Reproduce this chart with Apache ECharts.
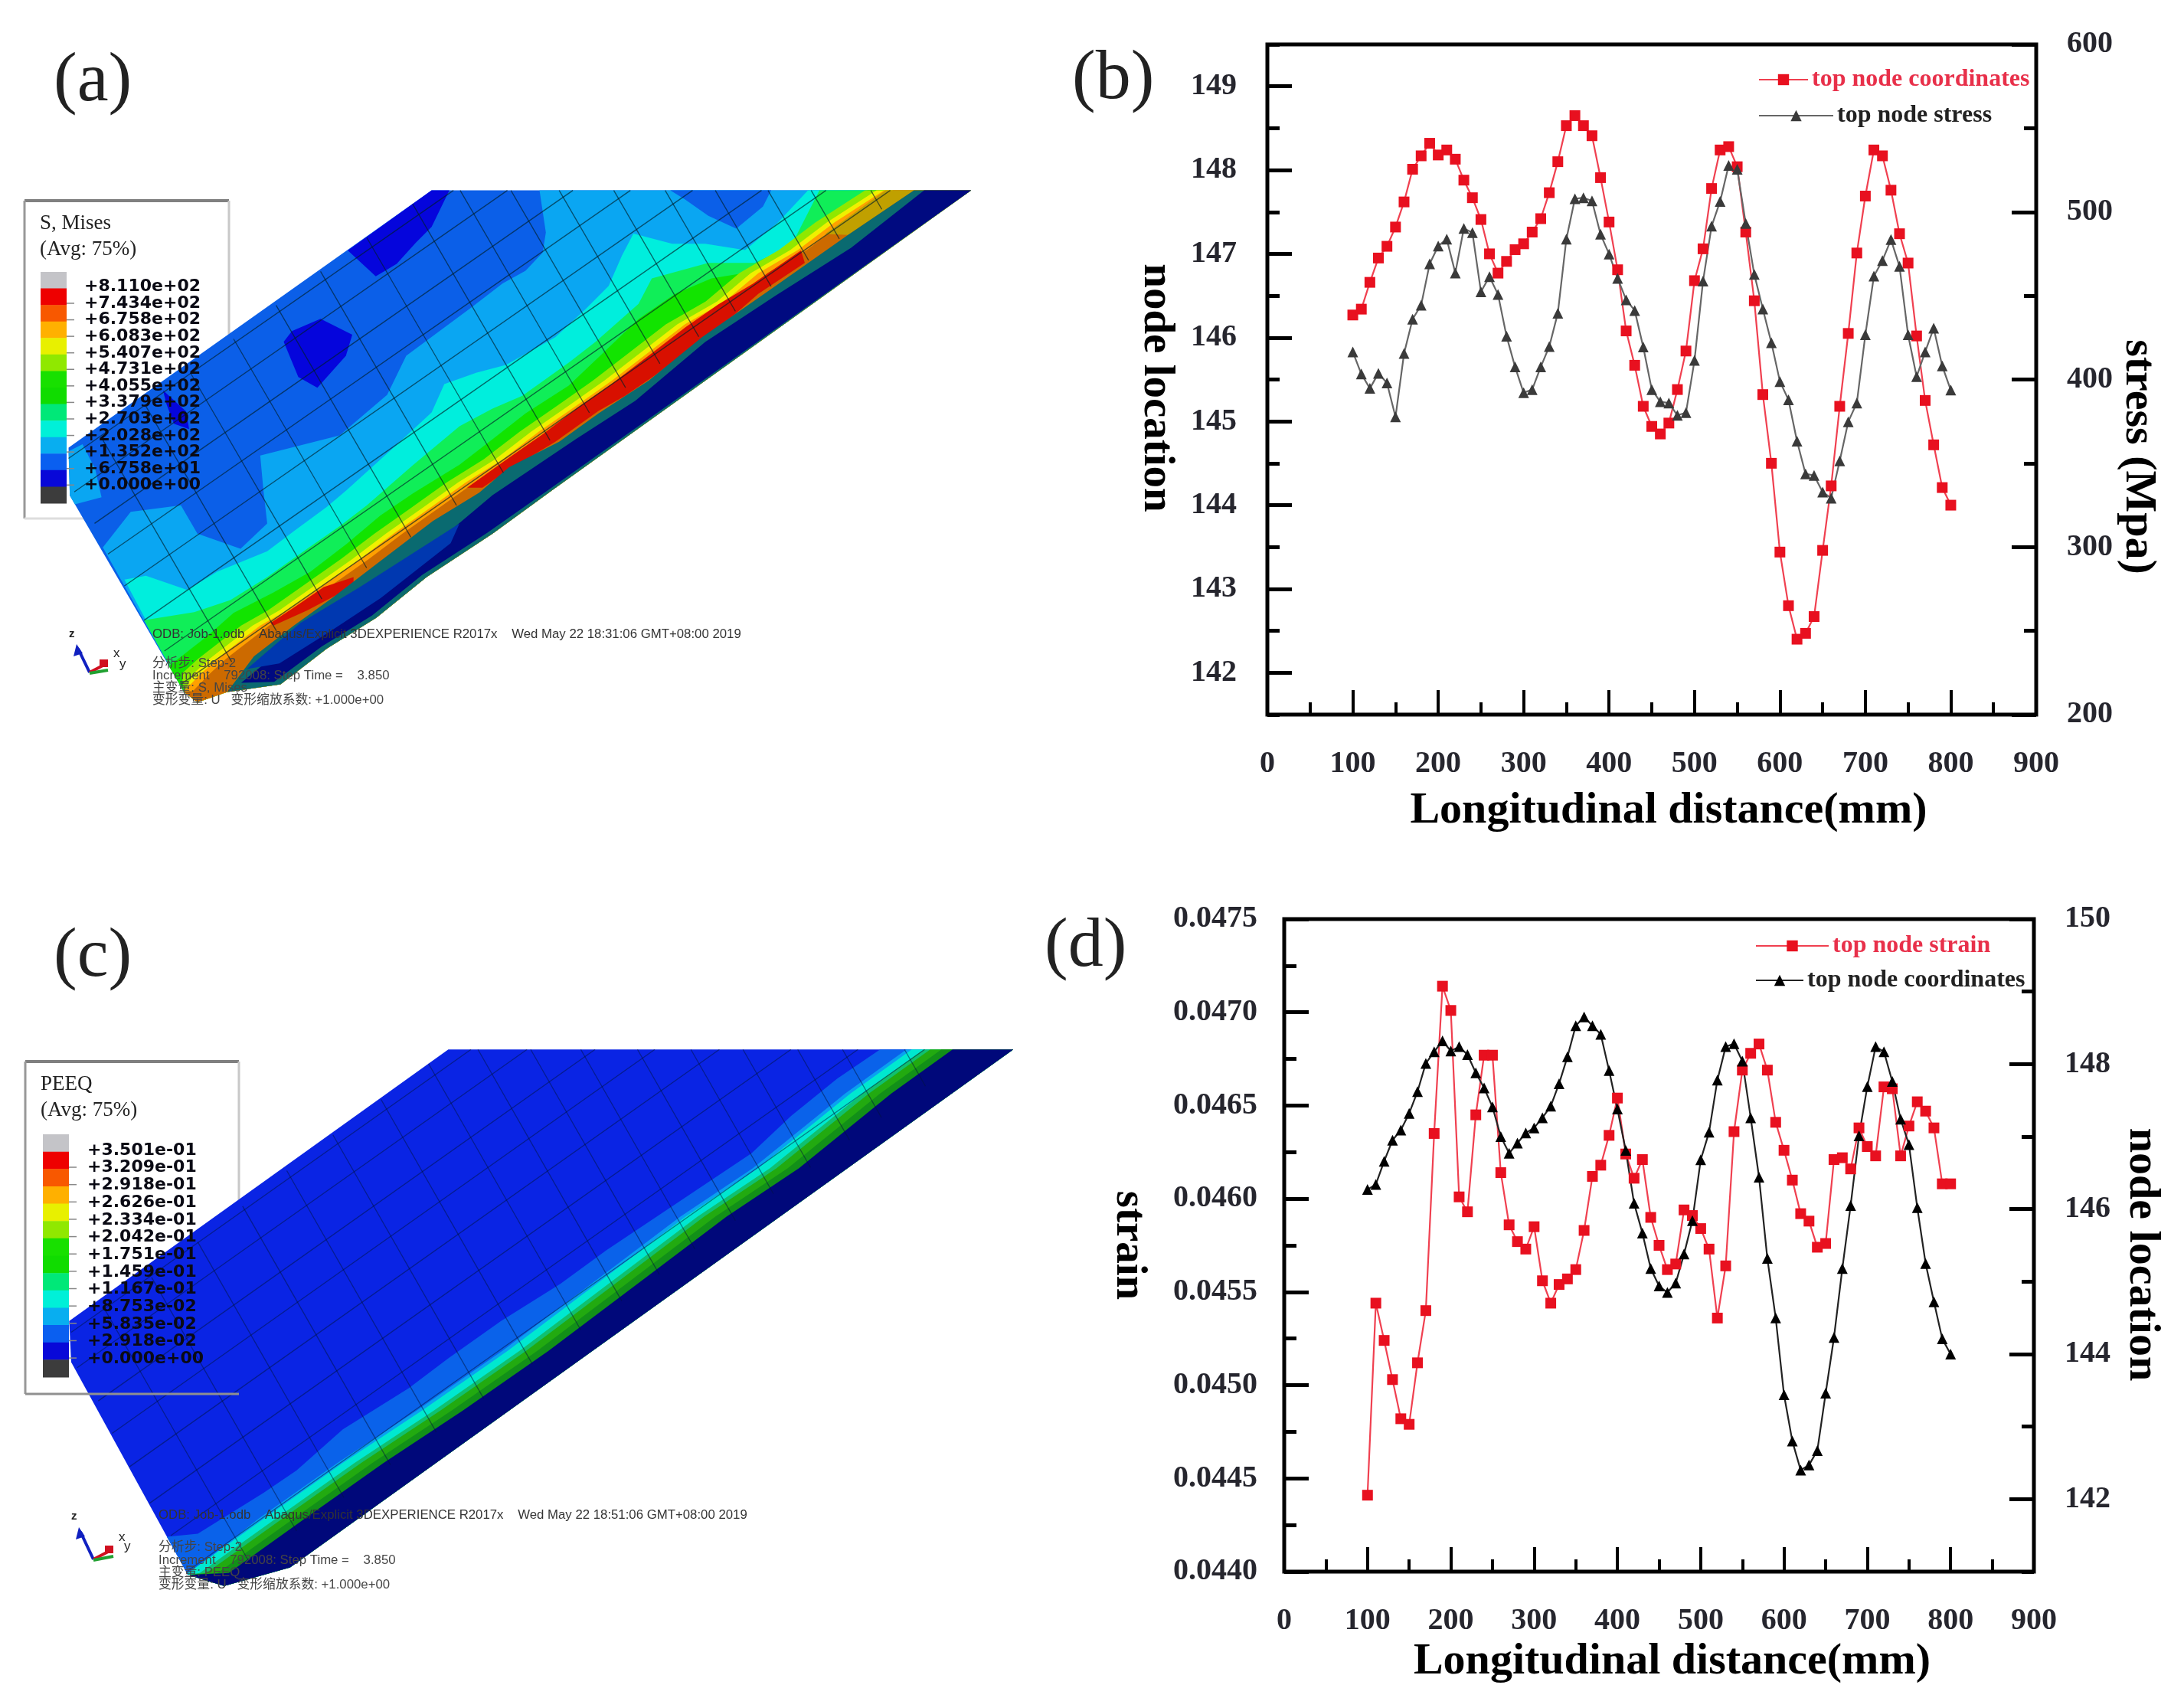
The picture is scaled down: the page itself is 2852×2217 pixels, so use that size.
<!DOCTYPE html>
<html>
<head>
<meta charset="utf-8">
<style>
  html, body { margin: 0; padding: 0; background: #fff; }
  #main { width: 2852px; height: 2217px; }
</style>
<script src="https://cdn.jsdelivr.net/npm/echarts@6/dist/echarts.min.js"></script>
</head>
<body>
<div id="main"></div>
<script>
// ---DATA: line charts
const nodeDistance = [100,110,120,130,140,150,160,170,180,190,200,210,220,230,240,250,260,270,280,290,300,310,320,330,340,350,360,370,380,390,400,410,420,430,440,450,460,470,480,490,500,510,520,530,540,550,560,570,580,590,600,610,620,630,640,650,660,670,680,690,700,710,720,730,740,750,760,770,780,790,800];
const topNodeCoordinates = [146.27,146.34,146.66,146.95,147.09,147.32,147.62,148.01,148.17,148.32,148.18,148.24,148.13,147.88,147.67,147.41,147.00,146.77,146.91,147.05,147.12,147.26,147.42,147.73,148.10,148.53,148.65,148.53,148.41,147.91,147.38,146.81,146.08,145.67,145.18,144.94,144.85,144.98,145.38,145.84,146.68,147.06,147.78,148.24,148.28,148.04,147.26,146.44,145.32,144.50,143.44,142.80,142.40,142.47,142.67,143.46,144.23,145.18,146.05,147.01,147.69,148.24,148.17,147.76,147.24,146.89,146.02,145.25,144.72,144.21,144.00];
const topNodeStress = [416.5,403.3,394.7,403.7,397.9,377.7,415.5,436,444.4,469,479.7,483.8,463.6,490.2,487.7,452.4,461.4,450.8,425.8,407.5,392.1,394,407.5,419.7,439.6,483.8,507.9,508.5,506.6,486.7,474.9,460.4,447.6,441.2,419.4,394,386.7,386,378.6,380.2,411.4,458.8,491.5,506.3,527.8,525.5,493.1,462.7,442.1,421.9,398.8,387.9,363.2,343.7,342.7,332.8,329.2,351.4,374.8,386,426.7,461.7,471,483.5,467.5,426.7,401.7,416.5,430.6,408.1,393.7];
const topNodeStrain = [0.04441,0.04544,0.04524,0.04503,0.04482,0.04479,0.04512,0.04540,0.04635,0.04714,0.04701,0.04601,0.04593,0.04645,0.04677,0.04677,0.04614,0.04586,0.04577,0.04573,0.04585,0.04556,0.04544,0.04554,0.04557,0.04562,0.04583,0.04612,0.04618,0.04634,0.04654,0.04624,0.04611,0.04621,0.04590,0.04575,0.04562,0.04565,0.04594,0.04591,0.04584,0.04573,0.04536,0.04564,0.04636,0.04669,0.04678,0.04683,0.04669,0.04641,0.04626,0.04610,0.04592,0.04588,0.04574,0.04576,0.04621,0.04622,0.04616,0.04638,0.04628,0.04623,0.04660,0.04659,0.04623,0.04639,0.04652,0.04647,0.04638,0.04608,0.04608];

// ---DATA: contour legends
const misesLabels = ['+8.110e+02','+7.434e+02','+6.758e+02','+6.083e+02','+5.407e+02','+4.731e+02','+4.055e+02','+3.379e+02','+2.703e+02','+2.028e+02','+1.352e+02','+6.758e+01','+0.000e+00'];
const peeqLabels = ['+3.501e-01','+3.209e-01','+2.918e-01','+2.626e-01','+2.334e-01','+2.042e-01','+1.751e-01','+1.459e-01','+1.167e-01','+8.753e-02','+5.835e-02','+2.918e-02','+0.000e+00'];
const barColors = ['#c4c4c8','#ee0000','#f85800','#ffb000','#e8f000','#90e800','#18e000','#10dc00','#00e878','#00f0d8','#08aef0','#0a5ff0','#0808d8','#3c3c3c'];

// ---DATA: panel (a) contours, in the hidden 0-1560 view axes
const plateA = [[680,62],[1530,62],[870,910],[776,1033],[672,1156],[593,1271],[515,1358],[442,1459],[358,1481],[311,1510],[290,1481],[110,925],[108,790]];
const tailA = [[290,1481],[311,1510],[358,1481],[442,1459],[515,1358],[593,1271],[672,1156],[776,1033],[870,910],[1530,62]];
const lightPatchA = [[108,800],[130,780],[150,850],[160,930],[118,950],[110,925]];
const deepPatchA1 = [[680,62],[708,62],[680,165],[655,210],[625,270],[592,305],[548,232]];
const deepPatchA2 = [[505,425],[555,470],[545,530],[500,620],[470,590],[447,490],[460,460]];
const deepPatchA3 = [[257,628],[293,687],[298,737],[274,722],[262,665]];
const notchA = [[1056,62],[1215,62],[1202,108],[1160,170],[1116,134],[1079,87]];
const contourBlue = [[850,62],[860,181],[855,238],[828,289],[792,325],[745,390],[640,530],[610,640],[535,755],[410,812],[415,910],[421,1004],[379,1076],[311,1033],[285,953],[206,971],[162,1072]];
const contourCyan = [[1273,62],[1226,152],[1174,231],[1111,213],[1059,213],[998,184],[980,246],[959,332],[923,397],[875,477],[797,556],[750,578],[700,610],[680,690],[620,790],[546,910],[515,957],[463,1026],[421,1083],[342,1141],[295,1192],[230,1152],[196,1163]];
const contourSpring = [[1291,62],[1247,217],[1189,267],[1116,267],[1027,311],[1006,383],[938,491],[896,549],[823,643],[776,679],[724,729],[650,840],[578,953],[536,1011],[484,1076],[421,1156],[363,1221],[306,1255],[227,1278]];
const contourGreen = [[1367,62],[1299,144],[1247,231],[1195,289],[1121,311],[1064,354],[1006,426],[943,534],[896,614],[828,693],[776,766],[724,838],[650,920],[599,982],[546,1062],[489,1141],[431,1199],[368,1257],[327,1322],[266,1408]];
const yellowEdge = [[1393,62],[1315,152],[1257,231],[1195,296],[1142,376],[1079,441],[1022,520],[964,600],[907,672],[849,744],[792,823],[734,888],[677,961],[620,1033],[567,1105],[510,1177],[452,1250],[410,1293],[379,1336],[342,1387],[316,1430],[290,1478]];
const goldTopA = [[1395,62],[1440,62],[1336,188],[1300,185]];
const redSpindle1 = [[1262,232],[1186,326],[1132,384],[1080,449],[1028,521],[965,608],[913,673],[855,752],[803,817],[736,903],[760,903],[802,852],[875,773],[943,686],[985,643],[1032,585],[1100,491],[1158,412],[1195,354],[1268,267]];
const redSpindle2 = [[557,1156],[510,1184],[463,1242],[426,1286],[431,1293],[484,1250],[531,1206],[557,1170]];
const tealEdgeA = [[1440,62],[1336,188],[1210,347],[1106,477],[1022,600],[943,693],[881,773],[802,845],[755,917],[682,997],[593,1119],[525,1213],[463,1293],[400,1380],[358,1481],[442,1459],[515,1358],[593,1271],[672,1156],[776,1033],[870,910],[1530,62]];
const navyBandA = [[1456,62],[1341,224],[1221,361],[1111,491],[1001,657],[907,766],[776,924],[714,1018],[630,1127],[567,1199],[515,1271],[436,1372],[380,1455],[432,1452],[507,1352],[586,1265],[665,1150],[768,1030],[866,907],[1530,62]];
const blueStripA = [[724,1004],[567,1184],[473,1286],[389,1416],[440,1400],[520,1310],[600,1215],[710,1060]];

// ---DATA: panel (c) contours
const plateC = [[680,62],[1537,62],[440,1450],[340,1500],[285,1470],[108,900],[105,790]];
const tailC = [[285,1470],[340,1500],[440,1450],[1537,62]];
const contourPeeqBlue = [[1335,62],[1270,140],[1200,240],[1140,340],[1030,470],[920,600],[850,690],[760,790],[680,890],[620,970],[520,1080],[450,1190],[400,1250],[300,1360],[253,1368]];
const contourPeeqCyan = [[1383,62],[1290,180],[1150,380],[1040,510],[920,670],[770,870],[640,1030],[520,1170],[400,1320],[285,1465]];

// ---DATA: element mesh, shared by both plates
const meshColumnStarts = [[725,62],[805,62],[881,62],[967,62],[1048,62],[1127,62],[1210,62],[1278,62],[1372,62],[650,100],[578,196],[505,291],[435,387],[368,482],[300,578],[230,673],[160,762]];
const meshRowStarts = [[108,820],[117,915],[149,1004],[170,1091],[196,1181],[227,1278],[259,1365],[285,1459]];

function shiftX(line, dx) {
    return line.map(function (p) { return [p[0] + dx, p[1]]; });
}

// the column lines stop at the stress ridge, the row lines at the top edge
function meshLayers(ridgeX, ridgeY) {
    let out = [];
    meshColumnStarts.forEach(function (s) {
        let t = (ridgeY + (ridgeX - s[0]) * 1.25 - s[1]) / 4.34;
        out.push({ line: true, points: [s, [s[0] + t, s[1] + 3.09 * t]] });
    });
    meshRowStarts.forEach(function (s) {
        out.push({ line: true, points: [s, [s[0] + (s[1] - 62) / 1.25, 62]] });
    });
    return out;
}

const layersA = [
    { fill: '#0b5fe8', points: plateA },
    { fill: '#0aa6f2', points: lightPatchA },
    { fill: '#0505dc', points: deepPatchA1 },
    { fill: '#0505dc', points: deepPatchA2 },
    { fill: '#0505dc', points: deepPatchA3 },
    { fill: '#0aa6f2', points: contourBlue.concat(tailA) },
    { fill: '#0b5fe8', points: notchA },
    { fill: '#00eedd', points: contourCyan.concat(tailA) },
    { fill: '#10ee58', points: contourSpring.concat(tailA) },
    { fill: '#12e400', points: contourGreen.concat(tailA) },
    { fill: '#8fe800', points: shiftX(yellowEdge.slice(0, -1), -30).concat(tailA) },
    { fill: '#f0f000', points: shiftX(yellowEdge.slice(0, -1), -12).concat(tailA) },
    { fill: '#ffa000', points: yellowEdge.concat(tailA) },
    { fill: '#cc6a00', points: shiftX(yellowEdge, 14).concat(tailA) },
    { fill: '#c0a000', points: goldTopA },
    { fill: '#d81000', points: redSpindle1 },
    { fill: '#d81000', points: redSpindle2 },
    { fill: '#0a6a70', points: tealEdgeA },
    { fill: '#000a80', points: navyBandA },
    { fill: '#0038b0', points: blueStripA }
].concat(meshLayers(1268, 267));

const layersC = [
    { fill: '#0a24e4', points: plateC },
    { fill: '#0a62ea', points: contourPeeqBlue.concat(tailC) },
    { fill: '#0aa0f0', points: shiftX(contourPeeqCyan.slice(0, -1), -8).concat(tailC) },
    { fill: '#00e8d0', points: contourPeeqCyan.concat(tailC) },
    { fill: '#10c070', points: shiftX(contourPeeqCyan, 18).concat(tailC) },
    { fill: '#22aa10', points: shiftX(contourPeeqCyan, 28).concat(tailC) },
    { fill: '#129018', points: shiftX(contourPeeqCyan, 45).concat(tailC) },
    { fill: '#00087a', points: shiftX(contourPeeqCyan, 62).concat(tailC) }
].concat(meshLayers(1300, 290));

function plateSeries(layers, axisIndex, meshColor) {
    return {
        type: 'custom',
        coordinateSystem: 'cartesian2d',
        xAxisIndex: axisIndex.x,
        yAxisIndex: axisIndex.y,
        silent: true,
        clip: false,
        data: layers.map(function (l, i) { return [i, 0]; }),
        renderItem: function (params, api) {
            let layer = layers[api.value(0)];
            let pts = layer.points.map(function (p) { return api.coord(p); });
            if (layer.line) {
                return { type: 'polyline', shape: { points: pts }, style: { fill: null, stroke: meshColor, lineWidth: 1.3 } };
            }
            return { type: 'polygon', shape: { points: pts }, style: { fill: layer.fill } };
        }
    };
}

const serifFont = 'Liberation Serif';
const labelStyle = { color: '#26262e', fontFamily: serifFont, fontWeight: 'bold', fontSize: 40 };

function hiddenAxis(gridIndex, inverse) {
    return { type: 'value', show: false, gridIndex: gridIndex, min: 0, max: 1560, inverse: !!inverse };
}

function distanceAxis(gridIndex, gap, pad) {
    return {
        type: 'value', gridIndex: gridIndex, min: 0, max: 900, interval: 100,
        name: 'Longitudinal distance(mm)', nameLocation: 'middle', nameGap: gap,
        nameTextStyle: { color: '#000', fontFamily: serifFont, fontWeight: 'bold', fontSize: 58, padding: [0, 0, 0, pad] },
        axisLine: { show: false },
        axisTick: { inside: true, length: 32, lineStyle: { color: '#000', width: 4 } },
        minorTick: { show: true, splitNumber: 2, length: 16, lineStyle: { color: '#000', width: 4 } },
        axisLabel: Object.assign({ margin: 45 }, labelStyle),
        splitLine: { show: false }, minorSplitLine: { show: false }
    };
}

function valueAxis(o) {
    return Object.assign({
        type: 'value', nameLocation: 'middle', nameRotate: -90,
        axisLine: { show: false },
        axisTick: { inside: true, length: 32, lineStyle: { color: '#000', width: 5 } },
        axisLabel: Object.assign({ margin: 40, padding: [7, 0, 0, 0] }, labelStyle),
        splitLine: { show: false }, minorSplitLine: { show: false }
    }, o);
}

function nameText(pad, size) {
    return { color: '#000', fontFamily: serifFont, fontWeight: 'bold', fontSize: size, padding: [0, 0, 0, pad] };
}

// short in-between ticks only, drawn over the labelled axis
function shortTickAxis(gridIndex, position, min, max, interval) {
    return {
        type: 'value', gridIndex: gridIndex, position: position, min: min, max: max, interval: interval,
        axisLine: { show: false }, axisLabel: { show: false }, splitLine: { show: false },
        axisTick: { inside: true, length: 16, lineStyle: { color: '#000', width: 5 } }
    };
}

function lineSeries(name, values, color, symbol, xIndex, yIndex, lineColor) {
    return {
        type: 'line', name: name, xAxisIndex: xIndex, yAxisIndex: yIndex,
        data: nodeDistance.map(function (x, i) { return [x, values[i]]; }),
        symbol: symbol, symbolSize: 14, showAllSymbol: true,
        lineStyle: { color: lineColor, width: 2.2 },
        itemStyle: { color: color }
    };
}

function legendFor(name, left, top, width, textColor) {
    return {
        left: left, top: top, itemWidth: width, itemHeight: 18, itemGap: 0, selectedMode: false, padding: 0,
        data: [name],
        textStyle: { color: textColor, fontFamily: serifFont, fontWeight: 'bold', fontSize: 32 }
    };
}

// ---Plain drawing helpers for the legend boxes and captions
function text(str, x, y, font, fill) {
    return { type: 'text', z: 50, style: { text: str, x: x, y: y, font: font, fill: fill, verticalAlign: 'middle' } };
}

function rule(x1, y1, x2, y2, color, width, z) {
    return { type: 'line', z: z || 0, shape: { x1: x1, y1: y1, x2: x2, y2: y2 }, style: { stroke: color, lineWidth: width } };
}

function contourLegend(box, title, barX, barTop, barBottom, labels, labelX, labelTop, labelStep) {
    let out = [
        rule(box.left, box.top, box.right, box.top, '#808080', 4),
        rule(box.left, box.top, box.left, box.bottom, '#989898', 3),
        rule(box.right, box.top, box.right, box.bottom, '#c8c8c8', 3),
        rule(box.left, box.bottom, box.right, box.bottom, box.bottomColor, 3, box.bottomZ),
        text(title, box.left + 20, box.top + 30, '27px "Liberation Serif"', '#222'),
        text('(Avg: 75%)', box.left + 20, box.top + 64, '27px "Liberation Serif"', '#222')
    ];
    let h = (barBottom - barTop) / barColors.length;
    barColors.forEach(function (c, i) {
        out.push({ type: 'rect', z: 40, shape: { x: barX, y: barTop + i * h, width: 34, height: h + 0.5 }, style: { fill: c } });
        if (i > 0 && i < barColors.length - 1) {
            out.push(rule(barX + 34, barTop + (i + 0.9) * h, barX + 44, barTop + (i + 0.9) * h, '#888', 1.5, 40));
        }
    });
    labels.forEach(function (l, i) {
        out.push(text(l, labelX, labelTop + i * labelStep, 'bold 22px "DejaVu Sans"', '#0a0a14'));
    });
    return out;
}

function triad(ox, oy, topX, topY, rightX, rightY, zPos, xPos, yPos) {
    return [
        rule(ox, oy, topX, topY, '#1020c0', 4, 40),
        { type: 'polygon', z: 40, shape: { points: [[topX - 6, topY + 10], [topX + 6, topY + 6], [topX - 2, topY - 6]] }, style: { fill: '#1020c0' } },
        rule(ox, oy, rightX, rightY - 8, '#d01020', 4, 40),
        rule(ox, oy + 1, rightX + 3, rightY, '#20a030', 4, 41),
        { type: 'rect', z: 40, shape: { x: rightX - 8, y: rightY - 14, width: 11, height: 10 }, style: { fill: '#d01020' } },
        text('z', zPos[0], zPos[1], 'bold 15px "Liberation Sans"', '#222'),
        text('x', xPos[0], xPos[1], '17px "Liberation Sans"', '#222'),
        text('y', yPos[0], yPos[1], '17px "Liberation Sans"', '#222')
    ];
}

const captionFont = '16.8px "Liberation Sans","Noto Sans CJK SC"';
const panelFont = '92px "Liberation Serif"';

const graphics = [].concat(
    text('(a)', 70, 107, panelFont, '#222'),
    text('(b)', 1400, 104, panelFont, '#222'),
    text('(c)', 70, 1250, panelFont, '#222'),
    text('(d)', 1364, 1237, panelFont, '#222'),
    contourLegend({ left: 32, top: 262, right: 299, bottom: 677, bottomColor: '#dddddd' }, 'S, Mises', 53, 355, 657, misesLabels, 110, 374.5, 21.6),
    contourLegend({ left: 33, top: 1386, right: 312, bottom: 1820, bottomColor: '#909090', bottomZ: 40 }, 'PEEQ', 56, 1481, 1798, peeqLabels, 114, 1502, 22.7),
    text('ODB: Job-1.odb    Abaqus/Explicit 3DEXPERIENCE R2017x    Wed May 22 18:31:06 GMT+08:00 2019', 199, 828, captionFont, '#333'),
    text('分析步: Step-2', 199, 866, captionFont, '#444'),
    text('Increment    792008: Step Time =    3.850', 199, 882, captionFont, '#444'),
    text('主变量: S, Mises', 199, 898, captionFont, '#444'),
    text('变形变量: U   变形缩放系数: +1.000e+00', 199, 914, captionFont, '#444'),
    text('ODB: Job-1.odb    Abaqus/Explicit 3DEXPERIENCE R2017x    Wed May 22 18:51:06 GMT+08:00 2019', 207, 1978, captionFont, '#333'),
    text('分析步: Step-2', 207, 2020, captionFont, '#444'),
    text('Increment    792008: Step Time =    3.850', 207, 2037, captionFont, '#444'),
    text('主变量: PEEQ', 207, 2053, captionFont, '#444'),
    text('变形变量: U   变形缩放系数: +1.000e+00', 207, 2069, captionFont, '#444'),
    triad(117, 878, 102, 847, 138, 875, [90, 828], [148, 853], [156, 867]),
    triad(122, 2036, 105, 2000, 145, 2032, [93, 1980], [155, 2007], [162, 2019])
);

const coordinatesB = 'top node coordinates';
const coordinatesD = 'top node coordinates ';   // second copy, so the legend finds the black line

const chart = echarts.init(document.getElementById('main'), null, { renderer: 'canvas' });
chart.setOption({
    animation: false,
    backgroundColor: '#fff',
    grid: [
        { left: 0, top: 220, width: 1293, height: 720, show: false },
        { left: 1655, top: 58, width: 1004, height: 875, show: true, borderColor: '#000', borderWidth: 5, backgroundColor: 'transparent' },
        { left: 0, top: 1340, width: 1343, height: 760, show: false },
        { left: 1677, top: 1200, width: 979, height: 852, show: true, borderColor: '#000', borderWidth: 5, backgroundColor: 'transparent' }
    ],
    xAxis: [hiddenAxis(0), distanceAxis(1, 97, 44), hiddenAxis(2), distanceAxis(3, 89, 34)],
    yAxis: [
        hiddenAxis(0, true),
        valueAxis({
            gridIndex: 1, position: 'left', min: 141.5, max: 149.5, interval: 0.5,
            name: 'node location', nameGap: 117, nameTextStyle: nameText(22, 57),
            axisTick: { inside: true, length: 32, customValues: [142, 143, 144, 145, 146, 147, 148, 149], lineStyle: { color: '#000', width: 5 } },
            axisLabel: Object.assign({ margin: 40, padding: [7, 0, 0, 0], customValues: [142, 143, 144, 145, 146, 147, 148, 149] }, labelStyle)
        }),
        valueAxis({
            gridIndex: 1, position: 'right', min: 200, max: 600, interval: 100,
            name: 'stress (Mpa)', nameGap: 100, nameTextStyle: nameText(202, 58),
            minorTick: { show: true, splitNumber: 2, length: 16, lineStyle: { color: '#000', width: 5 } }
        }),
        shortTickAxis(1, 'left', 141.5, 149.5, 0.5),
        hiddenAxis(2, true),
        valueAxis({
            gridIndex: 3, position: 'left', min: 0.044, max: 0.0475, interval: 0.0005,
            name: 'strain', nameGap: 175, nameTextStyle: nameText(0, 57),
            minorTick: { show: true, splitNumber: 2, length: 16, lineStyle: { color: '#000', width: 5 } },
            axisLabel: Object.assign({ margin: 35, padding: [7, 0, 0, 0], formatter: function (v) { return v.toFixed(4); } }, labelStyle)
        }),
        valueAxis({
            gridIndex: 3, position: 'right', min: 141, max: 150, interval: 1,
            name: 'node location', nameGap: 112, nameTextStyle: nameText(24, 58),
            axisTick: { inside: true, length: 32, customValues: [142, 144, 146, 148, 150], lineStyle: { color: '#000', width: 5 } },
            axisLabel: Object.assign({ margin: 40, padding: [7, 0, 0, 0], customValues: [142, 144, 146, 148, 150] }, labelStyle)
        }),
        shortTickAxis(3, 'right', 141, 150, 1)
    ],
    legend: [
        legendFor(coordinatesB, 2296, 88, 64, '#e8304a'),
        legendFor('top node stress', 2296, 135, 97, '#222'),
        legendFor('top node strain', 2292, 1219, 95, '#e8304a'),
        legendFor(coordinatesD, 2292, 1264, 62, '#222')
    ],
    series: [
        plateSeries(layersA, { x: 0, y: 0 }, 'rgba(0,30,40,0.65)'),
        plateSeries(layersC, { x: 2, y: 4 }, 'rgba(0,20,60,0.5)'),
        lineSeries(coordinatesB, topNodeCoordinates, '#e8101f', 'rect', 1, 1, '#f04050'),
        lineSeries('top node stress', topNodeStress, '#3a3a3a', 'triangle', 1, 2, '#666'),
        lineSeries('top node strain', topNodeStrain, '#e8101f', 'rect', 3, 5, '#f04050'),
        lineSeries(coordinatesD, topNodeCoordinates, '#000', 'triangle', 3, 6, '#222')
    ],
    graphic: { elements: graphics }
});
</script>
</body>
</html>
